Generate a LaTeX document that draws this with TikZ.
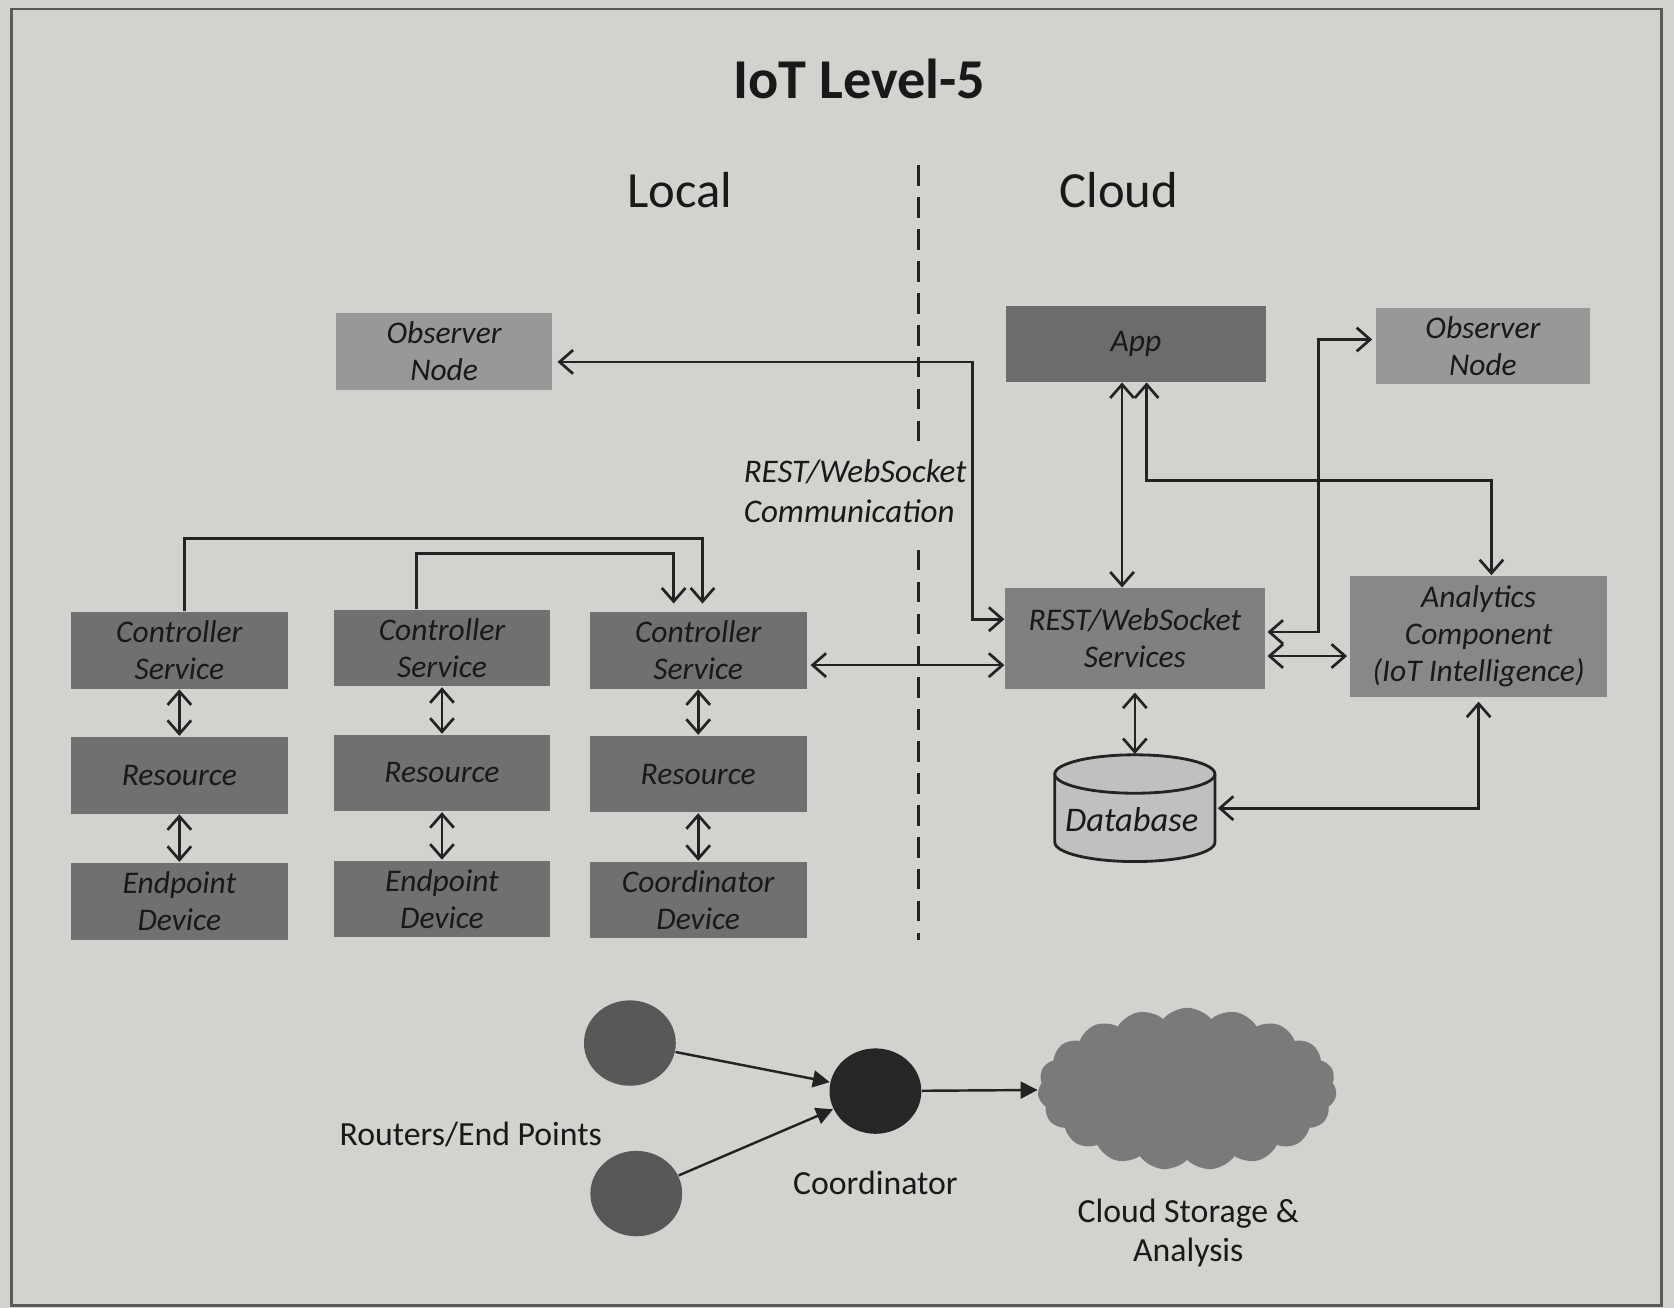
\documentclass[tikz,border=0pt]{standalone}
\usepackage{fontspec}
\setmainfont{Carlito}
\usetikzlibrary{arrows.meta,shapes.geometric,shapes.symbols,calc}
\definecolor{bg}{RGB}{210,210,207}
\definecolor{frame}{RGB}{90,90,90}
\definecolor{darkbox}{RGB}{112,112,112}
\definecolor{appbox}{RGB}{108,108,108}
\definecolor{restbox}{RGB}{128,128,128}
\definecolor{anabox}{RGB}{136,136,136}
\definecolor{obsbox}{RGB}{152,152,152}
\definecolor{dbfill}{RGB}{192,192,190}
\definecolor{routerc}{RGB}{88,88,88}
\definecolor{coordc}{RGB}{38,38,38}
\definecolor{cloudc}{RGB}{122,122,122}
\definecolor{txt}{RGB}{25,25,25}
\definecolor{lne}{RGB}{35,35,35}
\newcommand\bxfont{\fontsize{8.4}{9.9}\selectfont\itshape}
\newcommand\lblfont{\fontsize{9}{10.2}\selectfont}
\begin{document}
\begin{tikzpicture}[x=0.1mm,y=-0.1mm,
  >={Straight Barb[length=3.6pt,width=6.3pt]},
  blk/.style={fill=#1, draw=none, minimum width=2.03cm, minimum height=0.72cm,
    inner sep=1pt, align=center, font=\bxfont, text=txt},
  conn/.style={line width=0.72pt, draw=lne},
  tri/.style={line width=0.65pt, draw=lne, -{Triangle[length=4.5pt,width=4.5pt]}},
  lbl/.style={font=\lblfont, text=txt, align=center, inner sep=0pt}]

% background and frame
\fill[bg] (0,0) rectangle (1568,1225);
\useasboundingbox (0,0) rectangle (1568,1225);
\draw[frame, line width=0.7pt] (11,8.5) rectangle (1556,1223);

% titles
\node[text=txt] (title) at (805,74) {\fontsize{15}{18}\selectfont\bfseries IoT Level-5};
\node[text=txt] (local) at (637,178) {\fontsize{13.5}{16}\selectfont Local};
\node[text=txt] (cloud) at (1048,178) {\fontsize{13.5}{16}\selectfont Cloud};

% dashed separator
\coordinate (d1) at (860,155);
\coordinate (d2) at (860,415);
\coordinate (d3) at (860,515);
\coordinate (d4) at (860,880);
\draw[lne, line width=0.8pt, dash pattern=on 5.5pt off 3pt] (d1) -- (d2);
\draw[lne, line width=0.8pt, dash pattern=on 5.5pt off 3pt] (d3) -- (d4);
\node[anchor=west, align=left, inner sep=0pt, text=txt,
  font=\fontsize{8.8}{10.6}\selectfont\itshape] (comm) at (696,460)
  {REST/WebSocket\\Communication};

% local column boxes
\node[blk=darkbox] (cs1) at (168,609) {Controller\\Service};
\node[blk=darkbox] (res1) at (168,726) {Resource};
\node[blk=darkbox] (ep1) at (168,844) {Endpoint\\Device};
\node[blk=darkbox] (cs2) at (414,607) {Controller\\Service};
\node[blk=darkbox] (res2) at (414,724) {Resource};
\node[blk=darkbox] (ep2) at (414,842) {Endpoint\\Device};
\node[blk=darkbox] (cs3) at (654,609) {Controller\\Service};
\node[blk=darkbox] (res3) at (654,725) {Resource};
\node[blk=darkbox] (co3) at (654,843) {Coordinator\\Device};

\node[blk=obsbox] (obsL) at (416,329) {Observer\\Node};

% cloud side boxes
\node[blk=appbox, minimum width=2.44cm, minimum height=0.71cm] (app) at (1064,322) {App};
\node[blk=obsbox, minimum width=2.0cm, minimum height=0.71cm] (obsR) at (1389,324) {Observer\\Node};
\node[blk=restbox, minimum width=2.43cm, minimum height=0.94cm] (rest) at (1063,598) {REST/WebSocket\\Services};
\node[blk=anabox, minimum width=2.41cm, minimum height=1.13cm] (ana) at (1385,596) {Analytics\\Component\\(IoT Intelligence)};

% database cylinder
\node[minimum width=1.5cm, minimum height=1.0cm, inner sep=0pt] (db) at (1063,757) {};
\draw[lne, line width=0.75pt, fill=dbfill] (988,725) -- (988,789)
  arc[start angle=180, end angle=360, x radius=0.75cm, y radius=0.18cm]
  -- (1138,725)
  arc[start angle=0, end angle=180, x radius=0.75cm, y radius=0.18cm] -- cycle;
\draw[lne, line width=0.75pt] (988,725)
  arc[start angle=180, end angle=360, x radius=0.75cm, y radius=0.18cm];
\node[text=txt, font=\fontsize{9.2}{11}\selectfont\itshape] (dbtxt) at (1060,768) {Database};

% local vertical links
\draw[conn,<->] (cs1) -- (res1);
\draw[conn,<->] (res1) -- (ep1);
\draw[conn,<->] (cs2) -- (res2);
\draw[conn,<->] (res2) -- (ep2);
\draw[conn,<->] (cs3) -- (res3);
\draw[conn,<->] (res3) -- (co3);

% controller service links
\draw[conn,->] ([xshift=0.05cm]cs1.north) -- ++(0,-68) -| ([xshift=0.04cm,yshift=0.07cm]cs3.north);
\draw[conn,->] ([xshift=-0.24cm]cs2.north) -- ++(0,-52) -| ([xshift=-0.23cm,yshift=0.07cm]cs3.north);

% observer (local) to REST services
\coordinate (b1) at (911,580);
\draw[conn,<->] ([xshift=0.04cm,yshift=-0.1cm]obsL.east) -| (b1) -- (b1 -| rest.west);

% controller service 3 to REST services
\draw[conn,<->] ([xshift=0.03cm,yshift=-0.14cm]cs3.east) -- ([yshift=-0.14cm]cs3.east -| rest.west);

% cloud side links
\draw[conn,<->] ([xshift=-0.13cm]app.south) -- ([xshift=-0.13cm]app.south |- rest.north);
\draw[conn,<->] ([xshift=0.1cm]app.south) -- ++(0,92) -| ([xshift=0.12cm]ana.north);
\draw[conn,<->] ([xshift=0.02cm,yshift=0.06cm]rest.east) -- ++(48,0) |- ([xshift=-0.03cm,yshift=0.06cm]obsR.west);
\draw[conn,<->] ([xshift=0.02cm,yshift=-0.165cm]rest.east) -- ([xshift=-0.02cm,yshift=-0.165cm]rest.east -| ana.west);
\draw[conn,<->] ([yshift=-0.03cm]rest.south) -- (db.north);
\draw[conn,<->] ([xshift=0.02cm]db.east) -| ([yshift=-0.04cm]ana.south);

% bottom network
\node[ellipse, fill=routerc, minimum width=0.86cm, minimum height=0.8cm, inner sep=0pt] (r1) at (590,977) {};
\node[ellipse, fill=routerc, minimum width=0.86cm, minimum height=0.8cm, inner sep=0pt] (r2) at (596,1118) {};
\node[ellipse, fill=coordc, minimum width=0.86cm, minimum height=0.8cm, inner sep=0pt] (crd) at (820,1022) {};
\node[cloud, cloud puffs=19, cloud puff arc=100, aspect=1.85, fill=cloudc,
  minimum width=2.8cm, minimum height=1.52cm, inner sep=0pt] (cl) at (1112,1020) {};
\draw[tri] (r1) -- (crd);
\draw[tri] (r2) -- (crd);
\draw[tri] (crd) -- (cl);

\node[lbl] (rl) at (441,1063) {Routers/End Points};
\node[lbl] (cl2) at (820,1108) {Coordinator};
\node[lbl] (csl) at (1113,1155) {Cloud Storage \&\\Analysis};
\end{tikzpicture}
\end{document}
